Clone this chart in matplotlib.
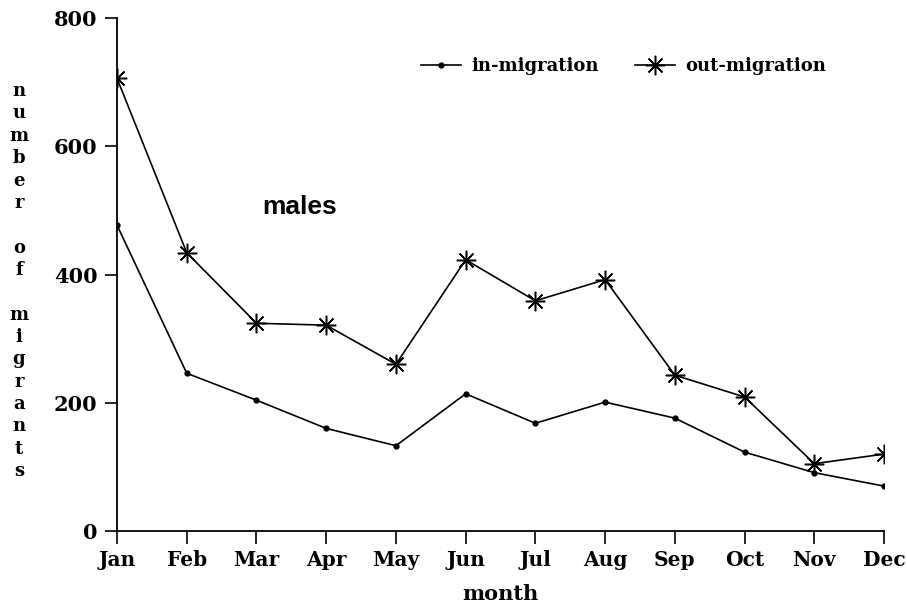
import matplotlib
matplotlib.use("Agg")
import matplotlib.pyplot as plt

months = ["Jan", "Feb", "Mar", "Apr", "May", "Jun", "Jul", "Aug", "Sep", "Oct", "Nov", "Dec"]
in_migration = [477, 246, 204, 160, 133, 214, 168, 201, 176, 123, 91, 70]
out_migration = [706, 434, 324, 321, 260, 423, 359, 392, 243, 209, 105, 120]
y_ticks = [0, 200, 400, 600, 800]

serif = ["DejaVu Serif"]
fig = plt.figure(figsize=(9.07, 6.07), dpi=100)
ax = fig.add_axes([0.129, 0.1252, 0.8457, 0.8451])

x = list(range(len(months)))
ax.plot(x, in_migration, color="black", lw=1.2, marker="o", ms=3.5, label="in-migration")
ax.plot(x, out_migration, color="black", lw=1.2, marker=(8, 2, 0), ms=14, mew=1.1, label="out-migration")

ax.set_xlim(0, 11)
ax.set_ylim(0, 800)
ax.set_xticks(x)
ax.set_xticklabels(months, family=serif, fontweight="bold", fontsize=14.5)
ax.set_yticks(y_ticks)
ax.set_yticklabels([str(v) for v in y_ticks], family=serif, fontweight="bold", fontsize=15)
ax.spines["top"].set_visible(False)
ax.spines["right"].set_visible(False)
for s in ("left", "bottom"):
    ax.spines[s].set_linewidth(1.3)
ax.tick_params(direction="out", length=9, width=1.2, pad=5)

ax.set_xlabel("month", family=serif, fontweight="bold", fontsize=15, labelpad=10)

label = "number of migrants"
stacked = "\n".join(ch if ch != " " else "" for ch in label)
fig.text(0.021, 0.537, stacked, family=serif, fontweight="bold", fontsize=13,
         ha="center", va="center", linespacing=1.31)

ax.text(0.189, 0.632, "males", transform=ax.transAxes, family=["Liberation Sans"],
        fontweight="bold", fontsize=19, ha="left", va="center")

leg = ax.legend(loc="center right", bbox_to_anchor=(0.946, 0.906), ncol=2, frameon=False,
                prop={"family": serif, "weight": "bold", "size": 13},
                handlelength=2.2, columnspacing=2.0, handletextpad=0.6)

fig.savefig("out.png", dpi=100)
